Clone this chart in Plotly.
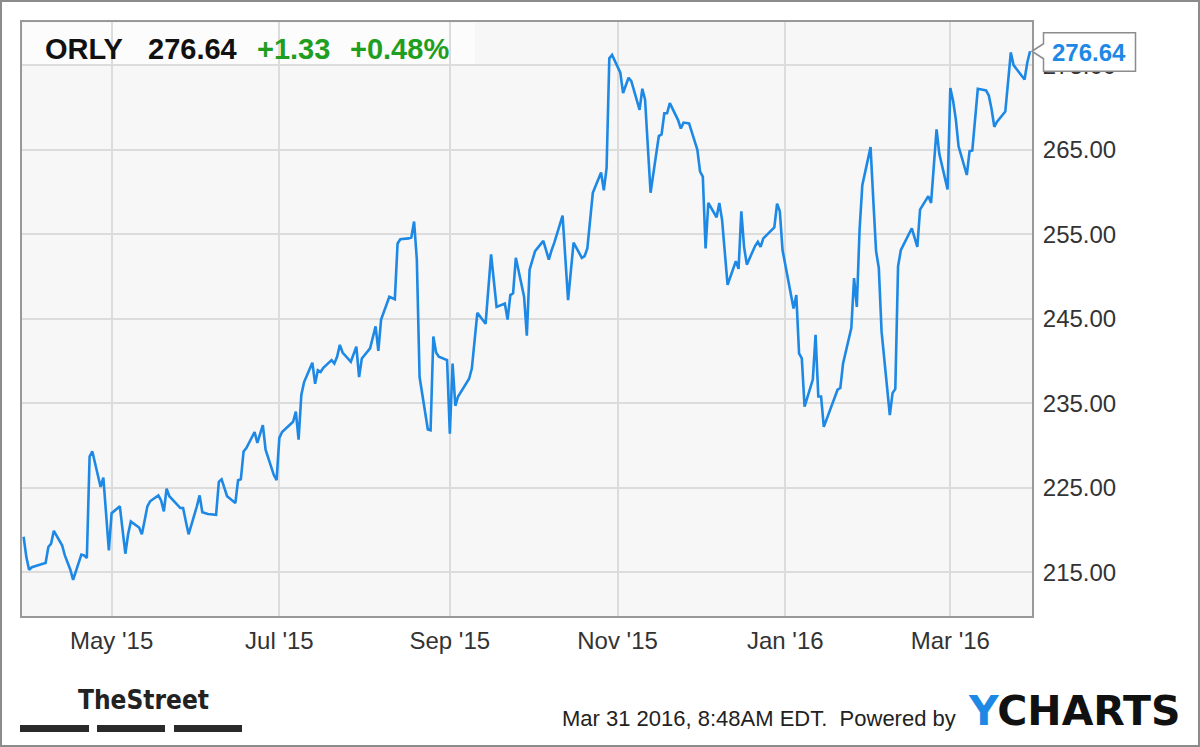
import plotly.graph_objects as go

# ---------------- data ----------------
dates = [
    "2015-03-30", "2015-03-31", "2015-04-01", "2015-04-02", "2015-04-06", "2015-04-07",
    "2015-04-08", "2015-04-09", "2015-04-10", "2015-04-13", "2015-04-14", "2015-04-15",
    "2015-04-16", "2015-04-17", "2015-04-20", "2015-04-21", "2015-04-22", "2015-04-23",
    "2015-04-24", "2015-04-27", "2015-04-28", "2015-04-29", "2015-04-30", "2015-05-01",
    "2015-05-04", "2015-05-05", "2015-05-06", "2015-05-07", "2015-05-08", "2015-05-11",
    "2015-05-12", "2015-05-13", "2015-05-14", "2015-05-15", "2015-05-18", "2015-05-19",
    "2015-05-20", "2015-05-21", "2015-05-22", "2015-05-26", "2015-05-27", "2015-05-28",
    "2015-05-29", "2015-06-01", "2015-06-02", "2015-06-03", "2015-06-04", "2015-06-05",
    "2015-06-08", "2015-06-09", "2015-06-10", "2015-06-11", "2015-06-12", "2015-06-15",
    "2015-06-16", "2015-06-17", "2015-06-18", "2015-06-19", "2015-06-22", "2015-06-23",
    "2015-06-24", "2015-06-25", "2015-06-26", "2015-06-29", "2015-06-30", "2015-07-01",
    "2015-07-02", "2015-07-06", "2015-07-07", "2015-07-08", "2015-07-09", "2015-07-10",
    "2015-07-13", "2015-07-14", "2015-07-15", "2015-07-16", "2015-07-17", "2015-07-20",
    "2015-07-21", "2015-07-22", "2015-07-23", "2015-07-24", "2015-07-27", "2015-07-28",
    "2015-07-29", "2015-07-30", "2015-07-31", "2015-08-03", "2015-08-04", "2015-08-05",
    "2015-08-06", "2015-08-07", "2015-08-10", "2015-08-11", "2015-08-12", "2015-08-13",
    "2015-08-14", "2015-08-17", "2015-08-18", "2015-08-19", "2015-08-20", "2015-08-21",
    "2015-08-24", "2015-08-25", "2015-08-26", "2015-08-27", "2015-08-28", "2015-08-31",
    "2015-09-01", "2015-09-02", "2015-09-03", "2015-09-04", "2015-09-08", "2015-09-09",
    "2015-09-10", "2015-09-11", "2015-09-14", "2015-09-15", "2015-09-16", "2015-09-17",
    "2015-09-18", "2015-09-21", "2015-09-22", "2015-09-23", "2015-09-24", "2015-09-25",
    "2015-09-28", "2015-09-29", "2015-09-30", "2015-10-01", "2015-10-02", "2015-10-05",
    "2015-10-06", "2015-10-07", "2015-10-08", "2015-10-09", "2015-10-12", "2015-10-13",
    "2015-10-14", "2015-10-15", "2015-10-16", "2015-10-19", "2015-10-20", "2015-10-21",
    "2015-10-22", "2015-10-23", "2015-10-26", "2015-10-27", "2015-10-28", "2015-10-29",
    "2015-10-30", "2015-11-02", "2015-11-03", "2015-11-04", "2015-11-05", "2015-11-06",
    "2015-11-09", "2015-11-10", "2015-11-11", "2015-11-12", "2015-11-13", "2015-11-16",
    "2015-11-17", "2015-11-18", "2015-11-19", "2015-11-20", "2015-11-23", "2015-11-24",
    "2015-11-25", "2015-11-27", "2015-11-30", "2015-12-01", "2015-12-02", "2015-12-03",
    "2015-12-04", "2015-12-07", "2015-12-08", "2015-12-09", "2015-12-10", "2015-12-11",
    "2015-12-14", "2015-12-15", "2015-12-16", "2015-12-17", "2015-12-18", "2015-12-21",
    "2015-12-22", "2015-12-23", "2015-12-24", "2015-12-28", "2015-12-29", "2015-12-30",
    "2015-12-31", "2016-01-04", "2016-01-05", "2016-01-06", "2016-01-07", "2016-01-08",
    "2016-01-11", "2016-01-12", "2016-01-13", "2016-01-14", "2016-01-15", "2016-01-19",
    "2016-01-20", "2016-01-21", "2016-01-22", "2016-01-25", "2016-01-26", "2016-01-27",
    "2016-01-28", "2016-01-29", "2016-02-01", "2016-02-02", "2016-02-03", "2016-02-04",
    "2016-02-05", "2016-02-08", "2016-02-09", "2016-02-10", "2016-02-11", "2016-02-12",
    "2016-02-16", "2016-02-17", "2016-02-18", "2016-02-19", "2016-02-22", "2016-02-23",
    "2016-02-24", "2016-02-25", "2016-02-26", "2016-02-29", "2016-03-01", "2016-03-02",
    "2016-03-03", "2016-03-04", "2016-03-07", "2016-03-08", "2016-03-09", "2016-03-10",
    "2016-03-11", "2016-03-14", "2016-03-15", "2016-03-16", "2016-03-17", "2016-03-18",
    "2016-03-21", "2016-03-22", "2016-03-23", "2016-03-24", "2016-03-28", "2016-03-29",
    "2016-03-30",
]

prices = [
    219.2, 216.8, 215.3, 215.6, 216.0, 216.1,
    218.0, 218.4, 219.9, 218.2, 217.0, 216.1,
    215.3, 214.1, 217.1, 217.0, 216.7, 228.7,
    229.3, 225.1, 226.2, 221.9, 217.6, 222.0,
    222.8, 220.0, 217.2, 219.5, 221.0, 220.3,
    219.5, 221.1, 222.8, 223.4, 224.1, 223.5,
    222.2, 224.9, 224.0, 222.6, 222.6, 221.0,
    219.5, 222.8, 224.1, 222.1, 222.0, 221.9,
    221.8, 225.7, 226.0, 225.0, 224.0, 223.2,
    225.9, 226.0, 229.3, 229.7, 231.6, 230.3,
    231.4, 232.4, 229.5, 226.5, 225.9, 230.9,
    231.6, 232.8, 234.0, 230.7, 236.0, 237.5,
    239.8, 237.3, 238.9, 238.7, 239.2, 240.1,
    239.7, 240.5, 241.9, 241.0, 239.9, 240.8,
    241.7, 238.1, 240.3, 241.5, 242.8, 244.1,
    241.2, 244.9, 247.6, 247.4, 247.3, 253.9,
    254.4, 254.5, 254.6, 256.5, 252.0, 238.1,
    231.9, 231.8, 242.9, 241.0, 240.5, 240.1,
    231.4, 239.7, 234.7, 235.8, 237.9, 239.1,
    242.5, 245.7, 244.4, 248.5, 252.6, 249.5,
    246.4, 246.8, 244.9, 247.8, 248.0, 252.2,
    247.6, 243.0, 250.8, 251.9, 253.0, 254.2,
    253.0, 252.0, 253.1, 254.0, 257.2, 252.2,
    247.2, 250.6, 254.0, 252.2, 252.4, 253.3,
    256.5, 259.9, 262.3, 260.2, 262.8, 275.8,
    276.2, 274.1, 271.7, 272.6, 273.5, 273.1,
    269.7, 272.2, 270.9, 265.4, 259.9, 266.6,
    266.8, 269.3, 269.3, 270.5, 268.5, 267.5,
    268.2, 268.1, 265.0, 262.4, 261.8, 253.3,
    258.7, 257.0, 258.7, 256.7, 253.0, 249.0,
    251.8, 250.9, 257.7, 253.5, 251.4, 253.6,
    254.1, 253.5, 254.5, 255.8, 258.6, 257.7,
    253.1, 246.2, 247.8, 240.9, 240.3, 234.6,
    237.8, 243.1, 235.8, 235.8, 232.2, 235.6,
    236.6, 236.8, 239.7, 243.9, 249.8, 246.4,
    255.5, 260.8, 265.3, 259.0, 253.0, 251.0,
    243.5, 233.6, 236.2, 236.7, 251.2, 253.1,
    255.7, 254.6, 253.5, 257.9, 259.5, 258.7,
    263.0, 267.4, 264.5, 260.3, 272.3, 270.8,
    268.6, 265.4, 262.0, 264.8, 264.9, 268.5,
    272.2, 272.0, 271.4, 269.8, 267.7, 268.3,
    269.5, 273.0, 276.5, 275.0, 273.3, 275.31,
    276.64,
]

x_tick_vals = ["2015-05-01", "2015-07-01", "2015-09-01", "2015-11-01", "2016-01-01", "2016-03-01"]
x_tick_text = ["May '15", "Jul '15", "Sep '15", "Nov '15", "Jan '16", "Mar '16"]
y_tick_vals = [215, 225, 235, 245, 255, 265, 275]
y_tick_text = ["215.00", "225.00", "235.00", "245.00", "255.00", "265.00", "275.00"]

ticker = "ORLY"
last_price_text = "276.64"
change_text = "+1.33"
change_pct_text = "+0.48%"
timestamp_text = "Mar 31 2016, 8:48AM EDT.  Powered by"

# ---------------- layout geometry ----------------
W, H = 1200, 747
L, T, R, B = 22, 22, 168, 131
PW, PH = W - L - R, H - T - B


def px(x):
    return (x - L) / PW


def py(y):
    return (H - B - y) / PH


BLUE = "#1e88e5"
GREEN = "#1f9e1f"
FONT = "Liberation Sans, Arial, sans-serif"

fig = go.Figure()
fig.add_trace(go.Scatter(
    x=dates, y=prices, mode="lines",
    line=dict(color=BLUE, width=2.6),
    hoverinfo="skip", showlegend=False,
))

shapes = []
# translucent header box
shapes.append(dict(type="rect", xref="paper", yref="paper",
                   x0=px(23), x1=px(475), y0=py(65), y1=py(23),
                   fillcolor="rgba(255,255,255,0.65)", line=dict(width=0), layer="between"))
# last value callout with pointer
shapes.append(dict(type="path", xref="paper", yref="y",
                   xsizemode="pixel", ysizemode="pixel",
                   xanchor=1, yanchor=prices[-1],
                   path="M 0,0 L 11.5,7.5 L 11.5,18.5 L 103.5,18.5 L 103.5,-20 L 11.5,-20 L 11.5,-7.5 Z",
                   fillcolor="white", line=dict(color="#8c8c8c", width=1.5), layer="above"))
# TheStreet bars
for x0, x1 in [(20, 89), (97, 165), (174, 242)]:
    shapes.append(dict(type="rect", xref="paper", yref="paper",
                       x0=px(x0), x1=px(x1), y0=py(732), y1=py(725),
                       fillcolor="#2a2a2a", line=dict(width=0)))
# outer frame
shapes.append(dict(type="rect", xref="paper", yref="paper",
                   x0=px(1), x1=px(1199), y0=py(746), y1=py(1),
                   line=dict(color="#8c8c8c", width=2), fillcolor="rgba(0,0,0,0)"))

annotations = []
hdr = [(ticker, 21, "#111111"), (last_price_text, 124, "#111111"),
       (change_text, 233, GREEN), (change_pct_text, 326, GREEN)]
for txt, dx, col in hdr:
    annotations.append(dict(text=txt, xref="paper", yref="paper", x=0, y=1,
                            xanchor="left", yanchor="middle", xshift=dx, yshift=-27,
                            showarrow=False,
                            font=dict(family=FONT, size=29, color=col, weight="bold")))
annotations.append(dict(text=last_price_text, xref="paper", yref="y", x=1, y=prices[-1],
                        xanchor="center", yanchor="middle", xshift=57, yshift=-1,
                        showarrow=False,
                        font=dict(family=FONT, size=24, color=BLUE, weight="bold")))
annotations.append(dict(text=timestamp_text, xref="paper", yref="paper",
                        x=px(958), y=py(718), xanchor="right", yanchor="middle",
                        showarrow=False, font=dict(family=FONT, size=22, color="#222222")))
annotations.append(dict(text="<span style='color:%s'>Y</span>CHARTS" % BLUE,
                        xref="paper", yref="paper",
                        x=px(966), y=py(711), xanchor="left", yanchor="middle",
                        showarrow=False,
                        font=dict(family="DejaVu Sans, sans-serif", size=41, color="#111111", weight="bold")))
annotations.append(dict(text="TheStreet", xref="paper", yref="paper",
                        x=px(76), y=py(700), xanchor="left", yanchor="middle",
                        showarrow=False,
                        font=dict(family="Liberation Sans Narrow, DejaVu Sans Condensed, Liberation Sans",
                                  size=26, color="#222222", weight="bold")))

fig.update_layout(
    width=W, height=H,
    margin=dict(l=L, r=R, t=T, b=B, pad=0),
    paper_bgcolor="white", plot_bgcolor="#f7f7f7",
    showlegend=False,
    hovermode=False,
    shapes=shapes, annotations=annotations,
    xaxis=dict(
        type="date",
        range=["2015-03-29 10:00", "2016-03-30 17:00"],
        tickmode="array", tickvals=x_tick_vals, ticktext=x_tick_text,
        showgrid=True, gridcolor="#dcdcdc", gridwidth=1.5,
        showline=True, linecolor="#999999", linewidth=2, mirror=True,
        ticks="", ticklabelstandoff=2,
        tickfont=dict(family=FONT, size=24, color="#333333"),
        zeroline=False, fixedrange=True,
    ),
    yaxis=dict(
        side="right",
        range=[209.83, 280.1],
        tickmode="array", tickvals=y_tick_vals, ticktext=y_tick_text,
        showgrid=True, gridcolor="#dcdcdc", gridwidth=1.5,
        showline=True, linecolor="#999999", linewidth=2, mirror=True,
        ticks="", ticklabelstandoff=4,
        tickfont=dict(family=FONT, size=24, color="#333333"),
        zeroline=False, fixedrange=True,
    ),
)

fig.write_html("out.html", config={"displayModeBar": False},
               post_script="document.body.style.margin='0';document.body.style.overflow='hidden';")
